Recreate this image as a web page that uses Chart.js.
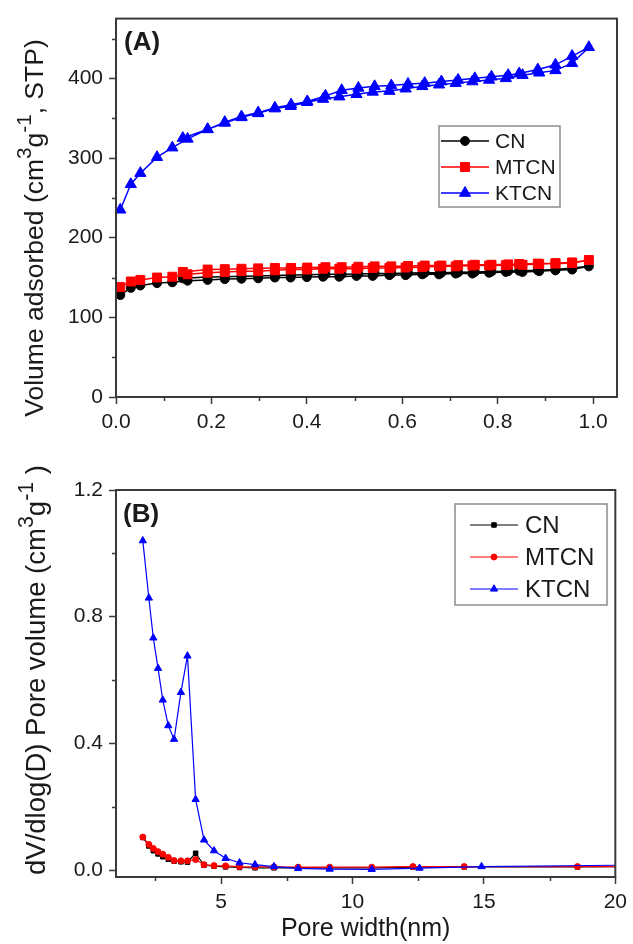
<!DOCTYPE html>
<html>
<head>
<meta charset="utf-8">
<script src="https://cdn.jsdelivr.net/npm/chart.js@4.4.1/dist/chart.umd.min.js"></script>
<style>
  html, body { margin: 0; padding: 0; background: #fff; }
  #wrap { position: relative; width: 633px; height: 944px; }
  canvas { position: absolute; left: 0; }
  #iso { top: 0; }
  #psd { top: 440px; }
</style>
</head>
<body>
<div id="wrap">
  <canvas id="iso" width="633" height="440"></canvas>
  <canvas id="psd" width="633" height="504"></canvas>
</div>
<script>
// (A) N2 sorption isotherms: relative pressure, adsorption then desorption branch
const pAds = [0.009, 0.031, 0.051, 0.086, 0.118, 0.15, 0.192, 0.228, 0.263, 0.298, 0.333, 0.366, 0.4, 0.434, 0.468,
  0.504, 0.538, 0.573, 0.607, 0.642, 0.677, 0.712, 0.747, 0.782, 0.817, 0.852, 0.887, 0.921, 0.956, 0.991];
const pDes = [0.956, 0.921, 0.884, 0.845, 0.822, 0.787, 0.752, 0.717, 0.682, 0.647, 0.612, 0.577, 0.542, 0.508,
  0.473, 0.439, 0.401, 0.367, 0.333, 0.298, 0.263, 0.228, 0.192, 0.14];

const cnAds = [128, 137, 140, 143, 144, 146, 147, 148, 148.5, 149, 150, 150, 150.5, 151, 151, 152, 152, 153, 153, 154,
  154, 155, 155, 156, 157, 157, 158, 159, 160, 164];
const cnDes = [162, 160, 159, 158.5, 158, 157.5, 157, 156.5, 156, 156, 155.5, 155, 155, 154.5, 154, 154, 153.5, 153,
  152.5, 152, 151.5, 151, 150.5, 149];
const mtcnAds = [138, 145, 147, 150, 151, 154, 156, 157, 158, 158, 159, 160, 160, 161, 161, 161, 162, 162, 162.5, 163,
  164, 164, 165, 165, 165.5, 166, 167, 167.5, 168, 172];
const mtcnDes = [169, 168, 167.5, 167, 166.5, 166, 166, 165.5, 165, 165, 164.5, 164, 164, 163.5, 163, 163, 162.5, 162,
  162, 161.5, 161, 160.5, 160, 157];
const ktcnAds = [235, 267, 281, 301, 313, 324, 336, 344, 351, 356, 362, 365, 370, 374, 377, 380, 383, 384, 387, 390,
  392, 394, 396, 398, 400, 404, 407, 410, 419, 439];
const ktcnDes = [428, 417, 411, 406, 404, 402, 400, 398, 396, 394, 393, 391, 390, 388, 385, 378, 371, 367, 363, 357,
  352, 345, 336, 325];

// (B) pore size distribution (nm / cm3 g-1)
const poreW = [2.02, 2.25, 2.42, 2.6, 2.78, 2.99, 3.21, 3.47, 3.72, 4.03, 4.35, 4.73, 5.17, 5.7, 6.29, 7.01, 7.93,
  9.13, 10.73, 12.3, 14.25, 18.56, 23.5];
const poreWK = [2.02, 2.25, 2.42, 2.6, 2.78, 2.99, 3.21, 3.47, 3.72, 4.03, 4.35, 4.73, 5.17, 5.7, 6.29, 7.01, 7.93,
  9.13, 10.73, 12.55, 14.91, 23.5];
const cnPore = [0.103, 0.076, 0.061, 0.051, 0.042, 0.034, 0.028, 0.026, 0.025, 0.053, 0.015, 0.012, 0.01, 0.008,
  0.007, 0.007, 0.007, 0.007, 0.007, 0.009, 0.01, 0.01, 0.012];
const mtcnPore = [0.104, 0.081, 0.068, 0.058, 0.05, 0.04, 0.03, 0.029, 0.029, 0.033, 0.017, 0.014, 0.013, 0.011,
  0.01, 0.01, 0.009, 0.009, 0.009, 0.011, 0.011, 0.011, 0.011];
const ktcnPore = [1.04, 0.859, 0.733, 0.637, 0.537, 0.456, 0.413, 0.561, 0.676, 0.223, 0.095, 0.061, 0.037, 0.023,
  0.017, 0.011, 0.005, 0.003, 0.002, 0.006, 0.011, 0.018];

const seriesNames = ['CN', 'MTCN', 'KTCN'];
const seriesColors = ['#000000', '#ff0000', '#0000ff'];

const FONT = "'Liberation Sans', Arial, sans-serif";
const INK = '#1a1a1a';
const FRAME = '#3a3a3a';

const pairs = (xs, ys) => xs.map((x, i) => ({ x, y: ys[i] }));
const loop = (ads, des) => pairs(pAds, ads).concat(pairs(pDes, des));

/**
 * Box around the plot, half-step minor ticks, rotated y title with superscripts,
 * panel tag and the framed legend
 */
const decor = {
  id: 'decor',
  afterDraw(chart, args, o) {
    const { ctx, chartArea: a } = chart;
    ctx.save();

    // minor ticks between the labelled ones
    ctx.strokeStyle = FRAME;
    ctx.lineWidth = 1.5;
    [chart.scales.x, chart.scales.y].forEach(s => {
      const vals = s.ticks.map(t => t.value);
      const step = vals[1] - vals[0];
      for (let v = vals[0] - step / 2; v < s.max; v += step) {
        if (v <= s.min) continue;
        const p = Math.round(s.getPixelForValue(v)) + 0.5;
        ctx.beginPath();
        if (s.isHorizontal()) {
          ctx.moveTo(p, a.bottom);
          ctx.lineTo(p, a.bottom + 4);
        } else {
          ctx.moveTo(a.left - 4, p);
          ctx.lineTo(a.left, p);
        }
        ctx.stroke();
      }
    });

    ctx.lineWidth = 2;
    ctx.strokeRect(a.left, a.top, a.width, a.height);

    // y title, superscripts raised and shrunk
    const t = o.yTitle;
    ctx.translate(t.x, t.y);
    ctx.rotate(-Math.PI / 2);
    let total = 0;
    t.parts.forEach(p => {
      ctx.font = `${p.sup ? t.size * 0.78 : t.size}px ${FONT}`;
      p.w = ctx.measureText(p.text).width;
      total += p.w;
    });
    let cx = -total / 2;
    ctx.fillStyle = INK;
    ctx.textBaseline = 'alphabetic';
    t.parts.forEach(p => {
      ctx.font = `${p.sup ? t.size * 0.78 : t.size}px ${FONT}`;
      ctx.fillText(p.text, cx, t.size * 0.36 - (p.sup ? t.size * 0.42 : 0));
      cx += p.w;
    });
    ctx.setTransform(1, 0, 0, 1, 0, 0);

    // panel tag
    ctx.font = `bold ${o.tag.size}px ${FONT}`;
    ctx.textBaseline = 'middle';
    ctx.fillText(o.tag.text, o.tag.x, o.tag.y);

    // legend
    const L = o.legend;
    ctx.strokeStyle = '#8c8c8c';
    ctx.lineWidth = 1.5;
    ctx.strokeRect(L.x, L.y, L.w, L.h);
    chart.data.datasets.forEach((ds, i) => {
      const y = L.y + L.row0 + i * L.gap;
      ctx.strokeStyle = ds.borderColor;
      ctx.lineWidth = ds.borderWidth;
      ctx.beginPath();
      ctx.moveTo(L.x + L.line0, y);
      ctx.lineTo(L.x + L.line1, y);
      ctx.stroke();
      ctx.fillStyle = ds.pointBackgroundColor;
      ctx.strokeStyle = ds.pointBorderColor;
      ctx.lineWidth = 1;
      Chart.helpers.drawPoint(ctx, { pointStyle: ds.pointStyle, radius: ds.pointRadius, borderWidth: 1, rotation: 0 },
        L.x + (L.line0 + L.line1) / 2, y);
      ctx.fillStyle = INK;
      ctx.font = `${L.size}px ${FONT}`;
      ctx.textBaseline = 'middle';
      ctx.fillText(ds.label, L.x + L.textX, y + 1);
    });
    ctx.restore();
  },
};

const makeSet = (i, data, style, radius, width) => ({
  label: seriesNames[i],
  data,
  showLine: true,
  borderColor: seriesColors[i],
  backgroundColor: seriesColors[i],
  pointBackgroundColor: seriesColors[i],
  pointBorderColor: seriesColors[i],
  borderWidth: width,
  pointStyle: style,
  pointRadius: radius,
  pointBorderWidth: 1,
  order: 3 - i,
});

const tickFont = { family: FONT, size: 21 };

const axis = (min, max, step, fmt, size, extra = {}) => ({
  type: 'linear',
  min,
  max,
  ticks: {
    stepSize: step,
    includeBounds: false,
    autoSkip: false,
    maxRotation: 0,
    padding: 6,
    color: INK,
    font: tickFont,
    callback: fmt,
  },
  grid: { drawOnChartArea: false, tickLength: 7, tickWidth: 1.5, tickColor: FRAME },
  border: { display: false },
  afterFit: s => {
    if (s.isHorizontal()) s.height = size;
    else s.width = size;
  },
  ...extra,
});

const baseOptions = {
  responsive: false,
  animation: false,
  events: [],
  plugins: { legend: { display: false }, tooltip: { enabled: false } },
};

new Chart(document.getElementById('iso'), {
  type: 'scatter',
  data: {
    datasets: [
      makeSet(0, loop(cnAds, cnDes), 'circle', 4.5, 1.5),
      makeSet(1, loop(mtcnAds, mtcnDes), 'rect', 6.3, 1.5),
      makeSet(2, loop(ktcnAds, ktcnDes), 'triangle', 6.5, 1.5),
    ],
  },
  options: {
    ...baseOptions,
    layout: { padding: { top: 15, right: 16, left: 0, bottom: 0 } },
    scales: {
      x: axis(0, 1.05, 0.2, v => v.toFixed(1), 43),
      y: axis(0, 475, 100, v => v.toFixed(0), 116),
    },
    plugins: {
      ...baseOptions.plugins,
      decor: {
        yTitle: {
          x: 33, y: 228, size: 26.5,
          parts: [{ text: 'Volume adsorbed (cm' }, { text: '3', sup: true }, { text: 'g' },
            { text: '-1', sup: true }, { text: ', STP)' }],
        },
        tag: { text: '(A)', x: 124, y: 43, size: 26 },
        legend: { x: 439, y: 126, w: 121, h: 81, row0: 15, gap: 26, line0: 2, line1: 50, textX: 56, size: 21 },
      },
    },
  },
  plugins: [decor],
});

new Chart(document.getElementById('psd'), {
  type: 'scatter',
  data: {
    datasets: [
      makeSet(0, pairs(poreW, cnPore), 'rect', 3.2, 1.2),
      makeSet(1, pairs(poreW, mtcnPore), 'circle', 3, 1.2),
      makeSet(2, pairs(poreWK, ktcnPore), 'triangle', 4.2, 1.2),
    ],
  },
  options: {
    ...baseOptions,
    layout: { padding: { top: 50, right: 12, left: 0, bottom: 0 } },
    scales: {
      x: axis(1, 20, 5, v => v.toFixed(0), 67, {
        title: { display: true, text: 'Pore width(nm)', color: INK, font: { family: FONT, size: 25, lineHeight: 1 }, padding: { top: 0, bottom: 2 } },
      }),
      y: axis(-0.022, 1.2, 0.4, v => v.toFixed(1), 116),
    },
    plugins: {
      ...baseOptions.plugins,
      decor: {
        yTitle: {
          x: 35, y: 230, size: 27.5,
          parts: [{ text: 'dV/dlog(D) Pore volume (cm' }, { text: '3', sup: true }, { text: 'g' },
            { text: '-1', sup: true }, { text: ' )' }],
        },
        tag: { text: '(B)', x: 123, y: 75, size: 26 },
        legend: { x: 455, y: 64, w: 152, h: 101, row0: 21, gap: 32, line0: 15, line1: 63, textX: 70, size: 24 },
      },
    },
  },
  plugins: [decor],
});
</script>
</body>
</html>
